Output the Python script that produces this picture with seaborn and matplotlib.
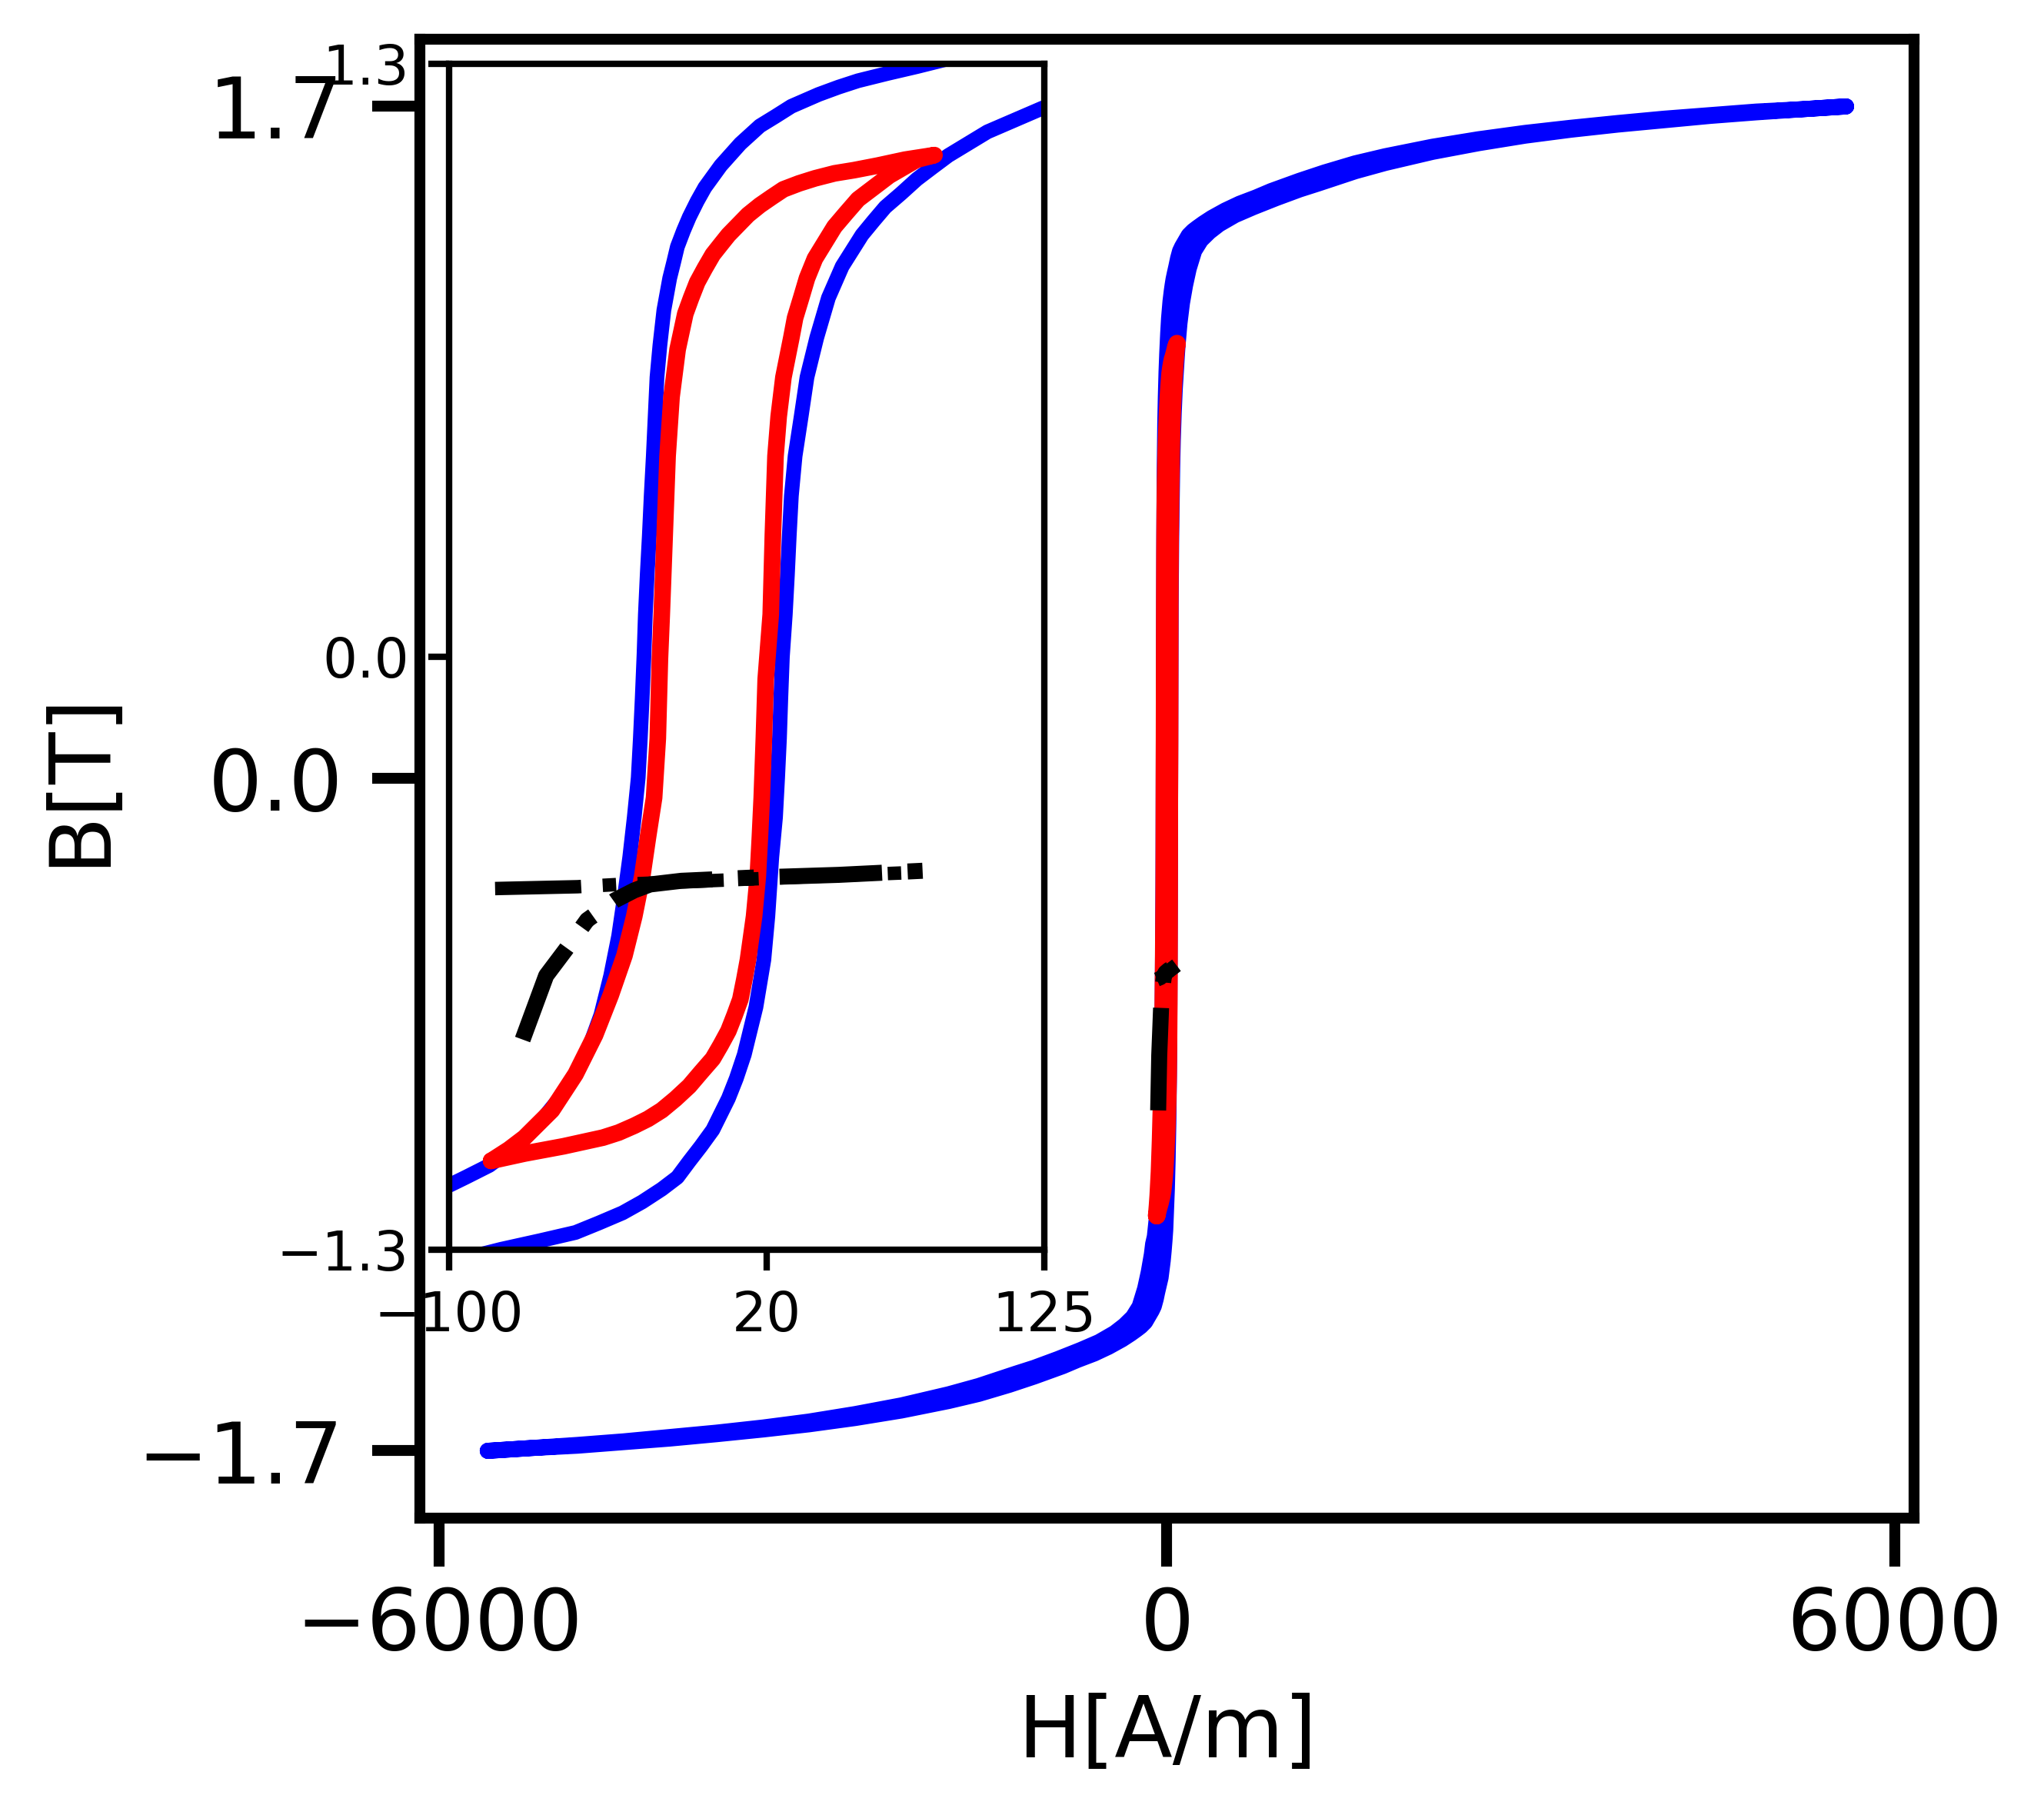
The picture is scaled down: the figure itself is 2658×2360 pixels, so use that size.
import matplotlib
matplotlib.use('Agg')
import matplotlib.pyplot as plt
import seaborn as sns

# ---- major loop (blue), ascending branch: H [A/m], B [T]
BLUE_UP_H = [-5600, -5244, -4860, -4480, -4100, -3716, -3330, -2953, -2570, -2189, -1800, -1552, -1300,
             -1094, -860, -737, -600, -482, -370, -300, -250, -216, -180, -150, -125, -108, -92,
             -80.4, -65.6, -52.2, -43.3, -34.4, -27.0, -19.6, -13.7, -9.2, -4.8, -0.3, 2.7, 5.6, 8.6,
             11.6, 16.0, 19.0, 20.5, 22.0, 23.4, 24.2, 24.9, 25.4, 26.0, 27.1, 27.9, 28.6, 29.4, 30.8,
             33.1, 35.3, 39.0, 43.4, 48.6, 56.1, 60.5, 64.9, 70.9, 76.8, 82.7, 88.7, 96.1, 103.5, 113.9,
             124.3, 150, 180, 225, 280, 350, 430, 560, 711, 900, 1094, 1247, 1552, 1800, 2189, 2570,
             2953, 3330, 3716, 4100, 4480, 4860, 5244, 5600]
BLUE_UP_B = [-1.700, -1.693, -1.687, -1.678, -1.669, -1.658, -1.646, -1.633, -1.617, -1.598, -1.574,
             -1.556, -1.533, -1.512, -1.486, -1.470, -1.454, -1.437, -1.418, -1.404, -1.393, -1.385,
             -1.374, -1.358, -1.345, -1.334, -1.316,
             -1.299, -1.280, -1.262, -1.241, -1.219, -1.195, -1.167, -1.141, -1.106, -1.073, -1.037,
             -1.002, -0.968, -0.924, -0.872, -0.768, -0.664, -0.569, -0.439, -0.352, -0.265, -0.179,
             -0.092, 0.000, 0.093, 0.180, 0.266, 0.353, 0.440, 0.527, 0.613, 0.700, 0.787, 0.856,
             0.925, 0.956, 0.986, 1.016, 1.047, 1.073, 1.099, 1.125, 1.151, 1.177, 1.203,
             1.248, 1.290, 1.335, 1.362, 1.383, 1.402, 1.425, 1.445, 1.468, 1.490, 1.505, 1.536, 1.557,
             1.585, 1.607, 1.626, 1.641, 1.654, 1.665, 1.676, 1.685, 1.693, 1.700]

# ---- major loop (blue), descending branch
BLUE_DN_H = [5600, 5244, 4860, 4480, 4100, 3716, 3330, 2953, 2570, 2189, 1800, 1552, 1300, 1094, 860,
             737, 600, 482, 370, 300, 250, 216, 180, 150, 125, 108, 92,
             76.8, 65.7, 54.6, 47.2, 39.7, 29.4, 23.4, 17.5, 10.1, 6.4, 2.7, -3.3, -6.2, -9.2, -11.4,
             -13.7, -15.1, -16.6, -18.8, -20.3, -21.4, -22.1, -22.8, -23.6, -24.3, -25.1, -25.8, -26.3,
             -27.0, -27.7, -28.5, -30.0, -31.7, -33.7, -35.9, -38.9, -42.6, -44.8, -47.0, -49.5, -52.2,
             -55.2, -58.1, -61.9, -65.5, -70.0, -74.5, -79.6, -84.8, -93.7, -99.7, -113.9, -124.3,
             -150, -180, -225, -280, -350, -430, -560, -711, -900, -1094, -1247, -1552, -1800, -2189,
             -2570, -2953, -3330, -3716, -4100, -4480, -4860, -5244, -5600]
BLUE_DN_B = [1.700, 1.693, 1.687, 1.678, 1.669, 1.658, 1.646, 1.633, 1.617, 1.598, 1.574, 1.556, 1.533,
             1.512, 1.486, 1.470, 1.454, 1.437, 1.418, 1.404, 1.393, 1.385, 1.374, 1.358, 1.345, 1.334,
             1.316,
             1.294, 1.279, 1.263, 1.249, 1.233, 1.207, 1.185, 1.164, 1.125, 1.101, 1.077, 1.029, 0.999,
             0.964, 0.934, 0.899, 0.865, 0.830, 0.760, 0.683, 0.613, 0.527, 0.440, 0.353, 0.266, 0.180,
             0.093, 0.006, -0.092, -0.179, -0.265, -0.352, -0.439, -0.525, -0.612, -0.699, -0.785,
             -0.820, -0.855, -0.885, -0.915, -0.942, -0.967, -0.994, -1.020, -1.046, -1.072, -1.093,
             -1.115, -1.141, -1.158, -1.177, -1.203,
             -1.248, -1.290, -1.335, -1.362, -1.383, -1.402, -1.425, -1.445, -1.468, -1.490, -1.505,
             -1.536, -1.557, -1.585, -1.607, -1.626, -1.641, -1.654, -1.665, -1.676, -1.685, -1.693,
             -1.700]

# ---- minor loop (red)
RED_UP_H = [-84.1, -71.5, -56.7, -41.8, -35.9, -30.0, -24.8, -19.6, -14.4, -9.2, -4.8, -0.3, 2.7, 5.6,
            7.9, 10.1, 11.6, 13.0, 15.3, 16.7, 17.5, 18.2, 19.0, 19.7, 21.6, 22.4, 23.4, 24.6, 26.4,
            29.4, 30.8, 33.1, 35.3, 38.3, 42.0, 45.7, 50.1, 54.6, 60.5, 66.4, 76.8, 83.5]
RED_UP_B = [-1.105, -1.089, -1.073, -1.054, -1.043, -1.028, -1.013, -0.994, -0.969, -0.941, -0.911,
            -0.881, -0.851, -0.820, -0.786, -0.751, -0.708, -0.664, -0.569, -0.482, -0.395, -0.309,
            -0.179, -0.049, 0.093, 0.266, 0.440, 0.527, 0.613, 0.700, 0.743, 0.787, 0.830, 0.873,
            0.908, 0.943, 0.973, 1.003, 1.029, 1.055, 1.090, 1.100]
RED_DN_H = [83.5, 72.4, 62.0, 53.1, 45.7, 38.3, 32.3, 26.4, 22.0, 17.5, 13.0, 9.3, 5.6, 2.7, -0.3,
            -3.3, -6.2, -8.5, -10.7, -13.6, -15.9, -17.4, -18.5, -19.6, -20.3, -21.1, -22.5, -24.8,
            -27.0, -30.0, -33.7, -38.9, -44.8, -48.5, -52.2, -56.7, -61.1, -66.3, -71.5, -77.4, -84.1]
RED_DN_B = [1.100, 1.090, 1.077, 1.067, 1.060, 1.049, 1.038, 1.025, 1.008, 0.990, 0.969, 0.947, 0.925,
            0.904, 0.882, 0.852, 0.821, 0.787, 0.752, 0.674, 0.570, 0.440, 0.266, 0.093, -0.005,
            -0.179, -0.309, -0.395, -0.482, -0.569, -0.655, -0.742, -0.829, -0.872, -0.915, -0.955,
            -0.994, -1.024, -1.054, -1.080, -1.105]

# ---- black curves
BLK1_H = [-82.6, -51.5, -35.9, 14.5, 79.0]
BLK1_B = [-0.508, -0.504, -0.499, -0.487, -0.472]
BLK2_H = [-72.2, -63.3, -55.9, -47.8, -37.4, -30.0, -24.0, -12.2, 14.5, 47.2, 79.0]
BLK2_B = [-0.839, -0.699, -0.642, -0.577, -0.534, -0.512, -0.499, -0.491, -0.484, -0.478, -0.469]

MAIN_XTICKS = [-6000, 0, 6000]
MAIN_YTICKS = [-1.7, 0.0, 1.7]
INSET_XTICKS = [-100, 20, 125]
INSET_YTICKS = [-1.3, 0.0, 1.3]

sns.set_style('ticks')
plt.rcParams.update({
    'font.family': ['DejaVu Sans'],
    'axes.edgecolor': 'black', 'xtick.color': 'black', 'ytick.color': 'black',
    'text.color': 'black', 'axes.labelcolor': 'black',
})


def draw_curves(ax, lw_loop, lw_red, lw_b1, lw_b2):
    sns.lineplot(x=BLUE_UP_H + BLUE_DN_H, y=BLUE_UP_B + BLUE_DN_B, sort=False, estimator=None,
                 color='blue', lw=lw_loop, ax=ax)
    sns.lineplot(x=RED_UP_H + RED_DN_H, y=RED_UP_B + RED_DN_B, sort=False, estimator=None,
                 color='red', lw=lw_red, ax=ax)
    sns.lineplot(x=BLK1_H, y=BLK1_B, sort=False, estimator=None, color='black', lw=lw_b1,
                 linestyle='-.', ax=ax)
    sns.lineplot(x=BLK2_H, y=BLK2_B, sort=False, estimator=None, color='black', lw=lw_b2,
                 linestyle='-.', ax=ax)


fig = plt.figure(figsize=(8.86, 7.8667), dpi=300)

# main axes
ax = fig.add_axes([0.2054, 0.1636, 0.731, 0.8148])
draw_curves(ax, 5.0, 5.5, 4.5, 5.0)
ax.set_xticks(MAIN_XTICKS)
ax.set_yticks(MAIN_YTICKS)
for s in ax.spines.values():
    s.set_linewidth(3.4)
ax.tick_params(axis='both', which='major', length=15, width=3.4, direction='out', labelsize=26.5)
ax.tick_params(axis='x', pad=6)
ax.tick_params(axis='y', pad=9)
ax.set_xlabel('H[A/m]', fontsize=26.5)
ax.set_ylabel('B[T]', fontsize=26.5)
ax.xaxis.set_label_coords(0.5, -0.118)
ax.yaxis.set_label_coords(-0.2, 0.5)

# inset
axin = fig.add_axes([0.2197, 0.3114, 0.2912, 0.6534])
axin.set_facecolor('white')
draw_curves(axin, 4.6, 5.2, 4.2, 5.0)
axin.set_xlim(-100, 125)
axin.set_ylim(-1.3, 1.3)
axin.set_xticks(INSET_XTICKS)
axin.set_yticks(INSET_YTICKS)
for s in axin.spines.values():
    s.set_linewidth(2.0)
axin.tick_params(axis='both', which='major', length=6.5, width=2.0, direction='out',
                 labelsize=17, pad=6)

fig.savefig('out.png', dpi=300)
